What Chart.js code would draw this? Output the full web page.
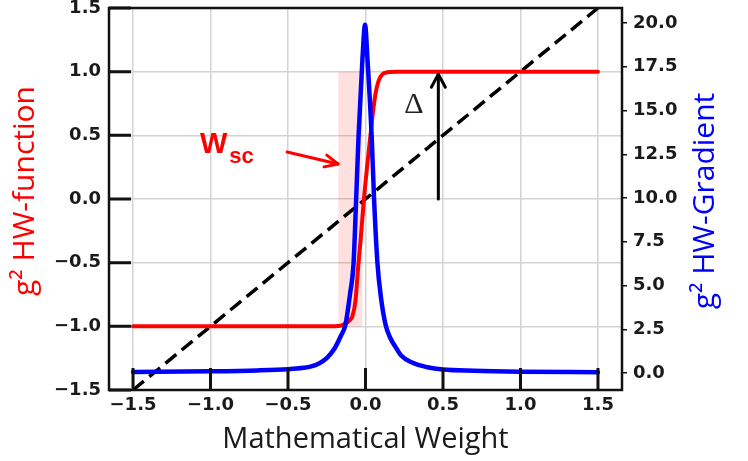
<!DOCTYPE html>
<html>
<head>
<meta charset="utf-8">
<script src="https://cdn.jsdelivr.net/npm/chart.js@4.4.0/dist/chart.umd.min.js"></script>
<style>
  html, body { margin: 0; padding: 0; background: #fff; }
</style>
</head>
<body>
<canvas id="chart" width="748" height="461"></canvas>
<script>
// tick labels
const xTicks = [-1.5, -1.0, -0.5, 0.0, 0.5, 1.0, 1.5];
const yLeftTicks = [-1.5, -1.0, -0.5, 0.0, 0.5, 1.0, 1.5];
const yRightTicks = [0, 2.5, 5, 7.5, 10, 12.5, 15, 17.5, 20];

// g² HW-function (red, left axis)
const fnX = [-1.5, -0.25, -0.16, -0.13, -0.1, -0.084, -0.065, -0.045, -0.03, -0.01, 0.01, 0.032, 0.05, 0.065, 0.085, 0.11, 0.14, 0.2, 1.5];
const fnY = [-1, -1, -0.995, -0.98, -0.95, -0.92, -0.8, -0.5, -0.3, 0.0, 0.25, 0.5, 0.7, 0.83, 0.93, 0.98, 0.995, 1, 1];

// g² HW-Gradient (blue, right axis)
const gradX = [-1.5, -1.0, -0.7, -0.5, -0.4, -0.35, -0.3, -0.25, -0.2, -0.16, -0.13, -0.1, -0.077, -0.06, -0.045, -0.02, -0.003, 0.013, 0.04, 0.055, 0.077, 0.1, 0.13, 0.16, 0.2, 0.23, 0.3, 0.4, 0.5, 0.7, 1.0, 1.5];
const gradY = [0.06, 0.1, 0.15, 0.22, 0.3, 0.38, 0.55, 0.85, 1.4, 2.1, 2.74, 4.5, 6.3, 10, 13.5, 17.9, 19.9, 17.9, 13.5, 10, 6.3, 4.3, 2.74, 2.0, 1.4, 1.0, 0.6, 0.33, 0.2, 0.13, 0.08, 0.05];

// dashed reference line
const diagX = [-1.5, 1.5];
const diagY = [-1.5, 1.5];

// shaded W_sc band
const bandX = [-0.175, -0.02];
const bandY = [-1, 1];

const tickFont = { family: "'DejaVu Sans'", size: 18, weight: 'bold' };
const tickColor = '#1a1a1a';
const fmt = v => (v < 0 ? '\u2212' : '') + Math.abs(v).toFixed(1);
const pts = (xs, ys) => xs.map((x, i) => ({ x: x, y: ys[i] }));

function arrow(ctx, x0, y0, x1, y1, color, width, len, half) {
  const a = Math.atan2(y1 - y0, x1 - x0);
  ctx.save();
  ctx.strokeStyle = color;
  ctx.lineWidth = width;
  ctx.lineCap = 'round';
  ctx.lineJoin = 'round';
  ctx.beginPath();
  ctx.moveTo(x0, y0);
  ctx.lineTo(x1, y1);
  ctx.stroke();
  ctx.beginPath();
  ctx.moveTo(x1 - len * Math.cos(a) + half * Math.sin(a), y1 - len * Math.sin(a) - half * Math.cos(a));
  ctx.lineTo(x1, y1);
  ctx.lineTo(x1 - len * Math.cos(a) - half * Math.sin(a), y1 - len * Math.sin(a) + half * Math.cos(a));
  ctx.stroke();
  ctx.restore();
}

const decor = {
  id: 'decor',
  beforeDatasetsDraw(chart) {
    const { ctx, scales: { x, y } } = chart;
    ctx.save();
    ctx.fillStyle = 'rgba(255, 0, 0, 0.12)';
    const l = x.getPixelForValue(bandX[0]), r = x.getPixelForValue(bandX[1]);
    const t = y.getPixelForValue(bandY[1]), b = y.getPixelForValue(bandY[0]);
    ctx.fillRect(l, t, r - l, b - t);
    ctx.restore();
  },
  afterDatasetsDraw(chart) {
    const { ctx, chartArea: ca, scales: { x, y } } = chart;
    ctx.save();
    // frame
    ctx.strokeStyle = '#111';
    ctx.lineWidth = 2.5;
    ctx.strokeRect(ca.left, ca.top, ca.right - ca.left, ca.bottom - ca.top);
    // inward ticks, bottom and left
    ctx.lineWidth = 3;
    ctx.beginPath();
    xTicks.forEach(v => {
      const px = x.getPixelForValue(v);
      ctx.moveTo(px, ca.bottom);
      ctx.lineTo(px, ca.bottom - 22);
    });
    yLeftTicks.forEach(v => {
      const py = y.getPixelForValue(v);
      ctx.moveTo(ca.left, py);
      ctx.lineTo(ca.left + 22, py);
    });
    ctx.stroke();

    // W_sc label and arrow
    ctx.fillStyle = '#ff0000';
    ctx.textBaseline = 'alphabetic';
    ctx.textAlign = 'left';
    ctx.font = "bold 29px 'Liberation Sans'";
    const wx = x.getPixelForValue(-1.068), wy = y.getPixelForValue(0.361);
    ctx.fillText('W', wx, wy);
    const ww = ctx.measureText('W').width;
    ctx.font = "bold 22px 'Liberation Sans'";
    ctx.fillText('sc', wx + ww + 2, y.getPixelForValue(0.283));
    arrow(ctx, x.getPixelForValue(-0.506), y.getPixelForValue(0.369),
      x.getPixelForValue(-0.177), y.getPixelForValue(0.275), '#ff0000', 3, 13, 6);

    // Delta label and arrow
    ctx.fillStyle = '#222';
    ctx.font = "30px 'Liberation Serif'";
    ctx.textAlign = 'center';
    ctx.textBaseline = 'middle';
    ctx.fillText('\u0394', x.getPixelForValue(0.313), y.getPixelForValue(0.738));
    arrow(ctx, x.getPixelForValue(0.47), y.getPixelForValue(0.0),
      x.getPixelForValue(0.47), y.getPixelForValue(0.98), '#000', 3, 13, 7);

    // vertical axis titles (both read bottom to top)
    ctx.font = "30px 'Open Sans'";
    ctx.textAlign = 'center';
    ctx.textBaseline = 'middle';
    ctx.fillStyle = '#ff0000';
    ctx.save();
    ctx.translate(25, 191);
    ctx.rotate(-Math.PI / 2);
    ctx.fillText('g\u00b2 HW-function', 0, 0);
    ctx.restore();
    ctx.fillStyle = '#0000ff';
    ctx.save();
    ctx.translate(705, 201);
    ctx.rotate(-Math.PI / 2);
    ctx.fillText('g\u00b2 HW-Gradient', 0, 0);
    ctx.restore();
    ctx.restore();
  }
};

new Chart(document.getElementById('chart'), {
  type: 'line',
  data: {
    datasets: [
      {
        label: 'g\u00b2 HW-Gradient',
        data: pts(gradX, gradY),
        yAxisID: 'y1',
        borderColor: '#0000ff',
        borderWidth: 4.5,
        borderCapStyle: 'round',
        pointRadius: 0,
        cubicInterpolationMode: 'monotone',
        order: 0
      },
      {
        label: 'g\u00b2 HW-function',
        data: pts(fnX, fnY),
        yAxisID: 'y',
        borderColor: '#ff0000',
        borderWidth: 4,
        borderCapStyle: 'round',
        pointRadius: 0,
        cubicInterpolationMode: 'monotone',
        order: 1
      },
      {
        label: 'identity',
        data: pts(diagX, diagY),
        yAxisID: 'y',
        borderColor: '#000',
        borderWidth: 3.5,
        borderDash: [14, 7],
        pointRadius: 0,
        order: 2
      }
    ]
  },
  options: {
    responsive: false,
    animation: false,
    events: [],
    layout: { padding: { top: 8, left: 0, right: 0, bottom: 0 } },
    plugins: { legend: { display: false }, tooltip: { enabled: false } },
    scales: {
      x: {
        type: 'linear',
        min: -1.655,
        max: 1.655,
        afterBuildTicks: s => { s.ticks = xTicks.map(v => ({ value: v })); },
        afterFit: s => { s.height = 71; s.paddingLeft = 0; s.paddingRight = 0; },
        grid: { color: '#d3d3d3', lineWidth: 1.5, drawTicks: false },
        border: { display: false },
        ticks: { font: tickFont, color: tickColor, padding: 5, maxRotation: 0, autoSkip: false, callback: fmt },
        title: {
          display: true,
          text: 'Mathematical Weight',
          color: '#1a1a1a',
          font: { family: "'Open Sans'", size: 29 },
          padding: { top: 0, bottom: 4 }
        }
      },
      y: {
        type: 'linear',
        position: 'left',
        min: -1.5,
        max: 1.5,
        afterBuildTicks: s => { s.ticks = yLeftTicks.map(v => ({ value: v })); },
        afterFit: s => { s.width = 109; s.paddingTop = 0; s.paddingBottom = 0; },
        grid: { color: '#d3d3d3', lineWidth: 1.5, drawTicks: false },
        border: { display: false },
        ticks: { font: tickFont, color: tickColor, padding: 8, autoSkip: false, callback: fmt }
      },
      y1: {
        type: 'linear',
        position: 'right',
        min: -0.97,
        max: 20.86,
        afterBuildTicks: s => { s.ticks = yRightTicks.map(v => ({ value: v })); },
        afterFit: s => { s.width = 126; s.paddingTop = 0; s.paddingBottom = 0; },
        grid: { drawOnChartArea: false, drawTicks: true, tickLength: 5, color: '#111', lineWidth: 1.5 },
        border: { display: false },
        ticks: { font: tickFont, color: tickColor, padding: 6, autoSkip: false, callback: fmt }
      }
    }
  },
  plugins: [decor]
});
</script>
</body>
</html>
